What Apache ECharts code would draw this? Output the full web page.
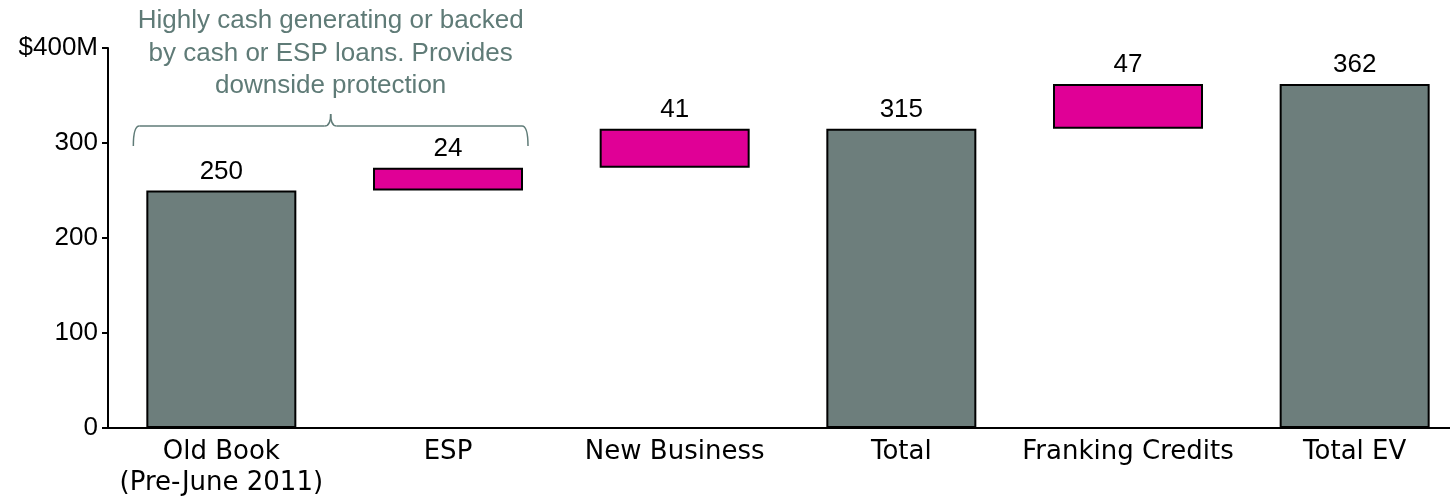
<!DOCTYPE html>
<html>
<head>
<meta charset="utf-8">
<script src="https://cdn.jsdelivr.net/npm/echarts@6/dist/echarts.min.js"></script>
<style>
  html, body { margin: 0; padding: 0; background: #ffffff; }
  #chart { width: 1450px; height: 496px; }
</style>
</head>
<body>
<div id="chart"></div>
<script>
// Valuation build-up ($M)
const categories = ['Old Book\n(Pre-June 2011)', 'ESP', 'New Business', 'Total', 'Franking Credits', 'Total EV'];
const values = [250, 24, 41, 315, 47, 362];
const isTotal = [true, false, false, true, false, true];
const yTicks = [0, 100, 200, 300, 400];
const noteText = 'Highly cash generating or backed\nby cash or ESP loans. Provides\ndownside protection';

const GRAY = '#6d7e7c';
const PINK = '#e00096';
const NOTE = '#5f7b77';

// invisible base for floating increments: running total before each step
const bases = [];
let running = 0;
values.forEach(function (v, i) {
  if (isTotal[i]) { bases.push(0); running = v; }
  else { bases.push(running); running += v; }
});

const chart = echarts.init(document.getElementById('chart'));
const grid = { left: 108, right: -18, top: 48, bottom: 68, outerBoundsMode: 'none', containLabel: false };

chart.setOption({
  animation: false,
  grid: grid,
  xAxis: {
    type: 'category',
    data: categories,
    axisLine: { lineStyle: { color: '#000', width: 2 } },
    axisTick: { show: false },
    axisLabel: {
      color: '#000', fontSize: 26, fontFamily: 'DejaVu Sans',
      margin: 9, lineHeight: 31, interval: 0
    }
  },
  yAxis: {
    type: 'value',
    min: 0, max: 400, interval: 100,
    splitLine: { show: false },
    axisLine: { show: true, lineStyle: { color: '#000', width: 2 } },
    axisTick: { show: true, length: 6, lineStyle: { color: '#000', width: 2 } },
    axisLabel: {
      color: '#000', fontSize: 26, fontFamily: 'Liberation Sans', margin: 10,
      formatter: function (v) { return v === yTicks[yTicks.length - 1] ? '$' + v + 'M' : String(v); }
    }
  },
  series: [
    {
      type: 'bar', stack: 'wf', barWidth: 150, silent: true,
      itemStyle: { color: 'transparent' },
      data: bases
    },
    {
      type: 'bar', stack: 'wf', barWidth: 150,
      data: values.map(function (v, i) {
        return { value: v, itemStyle: { color: isTotal[i] ? GRAY : PINK } };
      }),
      itemStyle: { borderColor: '#000', borderWidth: 2 },
      label: {
        show: true, position: 'top', distance: 6,
        color: '#000', fontSize: 26, fontFamily: 'Liberation Sans'
      }
    }
  ]
});

// bracket and note spanning the first two columns
function drawNotes() {
  const c0 = chart.convertToPixel({ xAxisIndex: 0 }, 0);
  const c1 = chart.convertToPixel({ xAxisIndex: 0 }, 1);
  const left = c0 - 88, right = c1 + 80, mid = (left + right) / 2;
  const top = 126, foot = 146, r = 6, peak = 114;
  const stroke = { stroke: NOTE, lineWidth: 1.5, fill: null };
  chart.setOption({
    graphic: [
      { type: 'bezierCurve', shape: { x1: left, y1: foot, cpx1: left, cpy1: top, x2: left + r, y2: top }, style: stroke },
      { type: 'line', shape: { x1: left + r, y1: top, x2: mid - r, y2: top }, style: stroke },
      { type: 'bezierCurve', shape: { x1: mid - r, y1: top, cpx1: mid, cpy1: top, x2: mid, y2: peak }, style: stroke },
      { type: 'bezierCurve', shape: { x1: mid, y1: peak, cpx1: mid, cpy1: top, x2: mid + r, y2: top }, style: stroke },
      { type: 'line', shape: { x1: mid + r, y1: top, x2: right - r, y2: top }, style: stroke },
      { type: 'bezierCurve', shape: { x1: right - r, y1: top, cpx1: right, cpy1: top, x2: right, y2: foot }, style: stroke },
      {
        type: 'text', x: mid, y: 5,
        style: {
          text: noteText, fill: NOTE, fontSize: 26, fontFamily: 'Liberation Sans',
          align: 'center', verticalAlign: 'top', lineHeight: 32.5
        }
      }
    ]
  });
}
drawNotes();
</script>
</body>
</html>
